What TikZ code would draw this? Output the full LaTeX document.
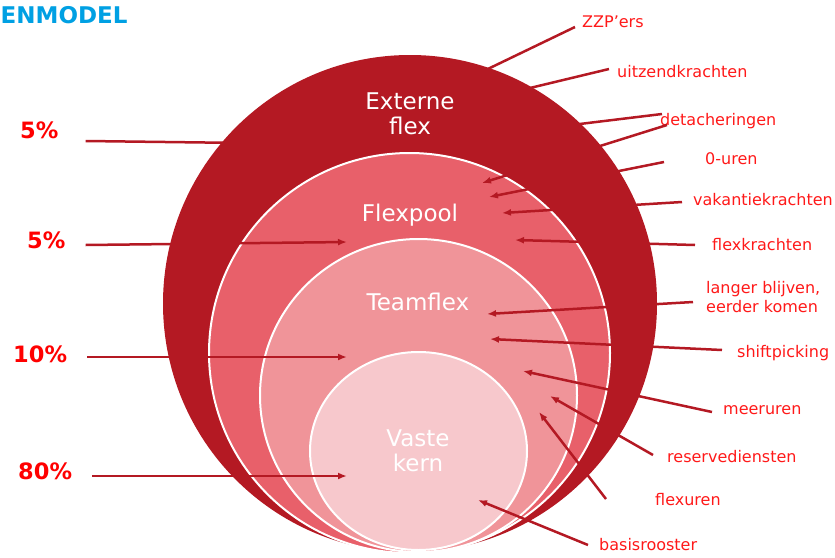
\documentclass[tikz,border=0pt]{standalone}
\usepackage{fontspec}
\setmainfont{DejaVu Sans}
\usetikzlibrary{shapes.geometric, arrows.meta}
\definecolor{flexdark}{RGB}{180,25,35}
\definecolor{flexpoolred}{RGB}{232,96,106}
\definecolor{teamred}{RGB}{240,148,153}
\definecolor{kernpink}{RGB}{247,200,204}
\definecolor{tagred}{RGB}{255,25,25}
\definecolor{titleblue}{RGB}{0,160,227}

\begin{document}
\begin{tikzpicture}[
    x=1pt, y=-1pt,
    ring/.style={ellipse, inner sep=0pt, outer sep=0pt},
    innerring/.style={ring, draw=white, line width=2pt},
    ringtext/.style={text=white, align=center, inner sep=0pt, font=\fontsize{23}{25}\selectfont},
    tag/.style={text=tagred, inner sep=0pt, align=left, font=\fontsize{16}{19}\selectfont},
    share/.style={text=red, inner sep=0pt, anchor=base west, font=\bfseries\fontsize{22.5}{26}\selectfont},
    arrow/.style={-{Latex[length=9pt,width=7pt]}, draw=flexdark, line width=2.5pt}
]
    \useasboundingbox (0,0) rectangle (835,557);

    % the four rings
    \node[ring, fill=flexdark, minimum width=494pt, minimum height=497pt] (externe) at (410,303.5) {};
    \node[innerring, fill=flexpoolred, minimum width=401pt, minimum height=400pt] (flexpool) at (409.5,353) {};
    \node[innerring, fill=teamred, minimum width=317pt, minimum height=313pt] (teamflex) at (418.5,395.5) {};
    \node[innerring, fill=kernpink, minimum width=217pt, minimum height=198pt] (kern) at (418.5,451) {};

    \node[ringtext] (externe_txt) at (410,114) {Externe\\flex};
    \node[ringtext, anchor=base] (flexpool_txt) at (410,221) {Flexpool};
    \node[ringtext, anchor=base] (teamflex_txt) at (418,310) {Teamflex};
    \node[ringtext] (kern_txt) at (418,451) {Vaste\\kern};

    \node[anchor=base west, inner sep=0pt, text=titleblue, font=\bfseries\fontsize{23}{27}\selectfont] (title) at (0.5,23) {ENMODEL};

    % shares on the left
    \node[share] (p_ext) at (20,138) {5\%};
    \node[share] (p_pool) at (27,248) {5\%};
    \node[share] (p_team) at (13,362) {10\%};
    \node[share] (p_kern) at (18,479) {80\%};

    % forms of flex on the right
    \node[tag, anchor=base west] (zzp) at (582,27) {ZZP’ers};
    \node[tag, anchor=base west] (uitzend) at (617,77) {uitzendkrachten};
    \node[tag, anchor=base west] (detach) at (660,125) {detacheringen};
    \node[tag, anchor=base west] (nul) at (705,164) {0-uren};
    \node[tag, anchor=base west] (vakantie) at (693,205) {vakantiekrachten};
    \node[tag, anchor=base west] (flexkr) at (712,250) {flexkrachten};
    \node[tag, anchor=west] (langer) at (706,297.5) {langer blijven,\\eerder komen};
    \node[tag, anchor=base west] (shift) at (737,357) {shiftpicking};
    \node[tag, anchor=base west] (meer) at (723,414) {meeruren};
    \node[tag, anchor=base west] (reserve) at (667,462) {reservediensten};
    \node[tag, anchor=base west] (flexuren) at (655,505) {flexuren};
    \node[tag, anchor=base west] (basis) at (599,550) {basisrooster};

    % arrow heads
    \coordinate (p_ext_head) at (245,143);
    \coordinate (p_pool_head) at (347,242);
    \coordinate (p_team_head) at (347,357);
    \coordinate (p_kern_head) at (347,476);
    \coordinate (zzp_head) at (465,80);
    \coordinate (uitzend_head) at (505,94);
    \coordinate (detach_head_a) at (555,127);
    \coordinate (detach_head_b) at (482,183);
    \coordinate (nul_head) at (489,197);
    \coordinate (vakantie_head) at (502,213);
    \coordinate (flexkr_head) at (515,240);
    \coordinate (langer_head) at (487,314);
    \coordinate (shift_head) at (490,339);
    \coordinate (meer_head) at (523,371);
    \coordinate (reserve_head) at (550,396);
    \coordinate (flexuren_head) at (539,412);
    \coordinate (basis_head) at (478,500);

    % left arrows
    \draw[arrow] ([shift={(27,3)}]p_ext.base east) -- (p_ext_head);
    \draw[arrow] ([shift={(20,-3)}]p_pool.base east) -- (p_pool_head);
    \draw[arrow] ([shift={(20,-5)}]p_team.base east) -- (p_team_head);
    \draw[arrow] ([shift={(20,-3)}]p_kern.base east) -- (p_kern_head);

    % right arrows
    \draw[arrow] ([shift={(-7,0)}]zzp.base west) -- (zzp_head);
    \draw[arrow] ([shift={(-8,-8)}]uitzend.base west) -- (uitzend_head);
    \draw[arrow] ([shift={(2,-11)}]detach.base west) -- (detach_head_a);
    \draw[arrow] ([shift={(7,0)}]detach.base west) -- (detach_head_b);
    \draw[arrow] ([shift={(-41,-2)}]nul.base west) -- (nul_head);
    \draw[arrow] ([shift={(-11,-3)}]vakantie.base west) -- (vakantie_head);
    \draw[arrow] ([shift={(-17,-5)}]flexkr.base west) -- (flexkr_head);
    \draw[arrow] ([shift={(-13,4.5)}]langer.west) -- (langer_head);
    \draw[arrow] ([shift={(-15,-7)}]shift.base west) -- (shift_head);
    \draw[arrow] ([shift={(-11,-2)}]meer.base west) -- (meer_head);
    \draw[arrow] ([shift={(-14,-7)}]reserve.base west) -- (reserve_head);
    \draw[arrow] ([shift={(-49,-6)}]flexuren.base west) -- (flexuren_head);
    \draw[arrow] ([shift={(-11,-5)}]basis.base west) -- (basis_head);
\end{tikzpicture}
\end{document}
